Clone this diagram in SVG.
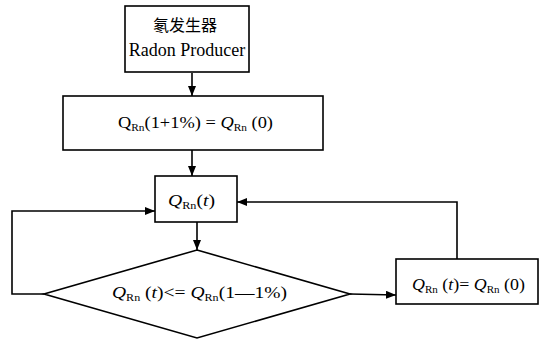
<svg xmlns="http://www.w3.org/2000/svg" width="539" height="340" viewBox="0 0 539 340">
<style>
.b{fill:#fff;stroke:#000;stroke-width:1.6}
.c{fill:none;stroke:#000;stroke-width:1.6}
text{font-family:"Liberation Serif","Noto Sans CJK SC",serif;fill:#000;font-size:17px}
.s{font-size:10.5px}
.i{font-style:italic}
</style>
<defs>
<marker id="a" markerWidth="10" markerHeight="8" refX="10" refY="4" orient="auto" markerUnits="userSpaceOnUse">
<path d="M0,0 L10,4 L0,8 z" fill="#000"/>
</marker>
</defs>
<g id="connectors">
<path class="c" d="M192,73 V96" marker-end="url(#a)"/>
<path class="c" d="M192,150 V176" marker-end="url(#a)"/>
<path class="c" d="M197,222 V250" marker-end="url(#a)"/>
<path class="c" d="M44,294 H12 V211 H155" marker-end="url(#a)"/>
<path class="c" d="M350,294 L396,295" marker-end="url(#a)"/>
<path class="c" d="M457,259 V202 H237" marker-end="url(#a)"/>
</g>
<g id="producer">
<rect class="b" x="125" y="6" width="124" height="66"/>
<text x="185" y="31" text-anchor="middle" style="font-size:16px">氡发生器</text>
<text x="187" y="56" text-anchor="middle" style="font-size:18px">Radon Producer</text>
</g>
<g id="init">
<rect class="b" x="63" y="96" width="260" height="54"/>
<text x="118" y="128" textLength="155" lengthAdjust="spacingAndGlyphs">Q<tspan class="s" dy="3">Rn</tspan><tspan dy="-3">(1+1%) = </tspan><tspan class="i">Q</tspan><tspan class="s" dy="3">Rn</tspan><tspan dy="-3"> (0)</tspan></text>
</g>
<g id="qt">
<rect class="b" x="155" y="176" width="82" height="46"/>
<text x="168" y="206" textLength="47" lengthAdjust="spacingAndGlyphs"><tspan class="i">Q</tspan><tspan class="s" dy="3">Rn</tspan><tspan dy="-3">(</tspan><tspan class="i">t</tspan>)</text>
</g>
<g id="decision">
<path class="b" d="M197,250 L350,294 L197,338 L44,294 Z"/>
<text x="112" y="298" textLength="175" lengthAdjust="spacingAndGlyphs"><tspan class="i">Q</tspan><tspan class="s" dy="3">Rn</tspan><tspan dy="-3"> (</tspan><tspan class="i">t</tspan>)&lt;= <tspan class="i">Q</tspan><tspan class="s" dy="3">Rn</tspan><tspan dy="-3">(1—1%)</tspan></text>
</g>
<g id="reset">
<rect class="b" x="396" y="259" width="142" height="45"/>
<text x="412" y="290" textLength="113" lengthAdjust="spacingAndGlyphs"><tspan class="i">Q</tspan><tspan class="s" dy="3">Rn</tspan><tspan dy="-3"> (</tspan><tspan class="i">t</tspan>)= <tspan class="i">Q</tspan><tspan class="s" dy="3">Rn</tspan><tspan dy="-3"> (0)</tspan></text>
</g>
</svg>
